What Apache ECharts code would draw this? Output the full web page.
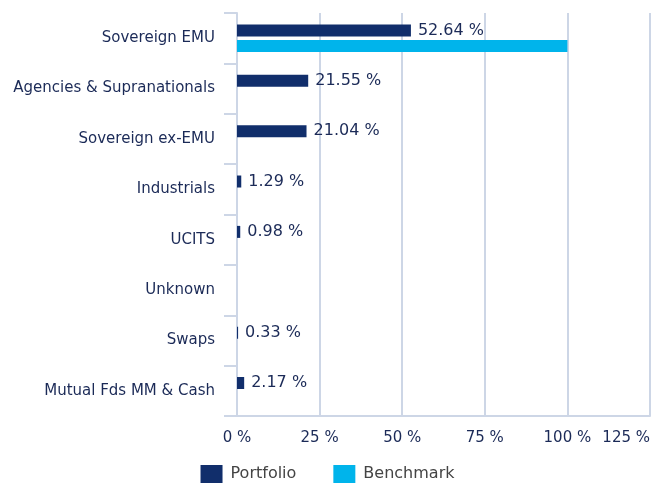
<!DOCTYPE html>
<html>
<head>
<meta charset="utf-8">
<script src="https://cdn.jsdelivr.net/npm/echarts@6/dist/echarts.min.js"></script>
<style>
html,body{margin:0;padding:0;background:#fff;}
#chart{width:655px;height:484px;}
</style>
</head>
<body>
<div id="chart"></div>
<script>
var categories = ["Sovereign EMU", "Agencies & Supranationals", "Sovereign ex-EMU", "Industrials", "UCITS", "Unknown", "Swaps", "Mutual Fds MM & Cash"];
var portfolio = [52.64, 21.55, 21.04, 1.29, 0.98, null, 0.33, 2.17];
var benchmark = [100, null, null, null, null, null, null, null];
var xTicks = [0, 25, 50, 75, 100, 125];

var textColor = '#1b2a57';
var gridColor = '#cdd6e6';
var chart = echarts.init(document.getElementById('chart'), null, {renderer: 'canvas'});
chart.setOption({
  animation: false,
  textStyle: {fontFamily: 'DejaVu Sans'},
  grid: {left: 237, right: 5, top: 13, height: 403, containLabel: false, outerBoundsMode: 'none'},
  legend: {
    top: 460,
    left: 'center',
    itemWidth: 22,
    itemHeight: 18,
    itemGap: 37,
    icon: 'rect',
    textStyle: {color: '#444', fontSize: 16, fontFamily: 'DejaVu Sans', padding: [0, 0, 0, 3]},
    data: ['Portfolio', 'Benchmark']
  },
  xAxis: {
    type: 'value',
    min: xTicks[0],
    max: xTicks[xTicks.length - 1],
    interval: 25,
    axisLine: {show: true, lineStyle: {color: gridColor, width: 2}},
    axisTick: {show: false},
    splitLine: {show: true, lineStyle: {color: gridColor, width: 2}},
    axisLabel: {color: textColor, fontSize: 15, margin: 15, alignMaxLabel: 'right',
      formatter: function (v) { return v + ' %'; }}
  },
  yAxis: {
    type: 'category',
    inverse: true,
    data: categories,
    axisLine: {show: true, lineStyle: {color: gridColor, width: 2}},
    axisTick: {show: true, inside: false, length: 13, lineStyle: {color: gridColor, width: 2}},
    axisLabel: {color: textColor, fontSize: 15, margin: 22, padding: [6, 0, 0, 0]}
  },
  series: [
    {
      name: 'Portfolio',
      type: 'bar',
      data: portfolio,
      barWidth: 12,
      barGap: '30%',
      itemStyle: {color: '#112e6b'},
      label: {show: true, position: 'right', distance: 7, color: textColor, fontSize: 16,
        formatter: function (p) { return p.value.toFixed(2) + ' %'; }}
    },
    {
      name: 'Benchmark',
      type: 'bar',
      data: benchmark,
      barWidth: 12,
      itemStyle: {color: '#00b4eb'}
    }
  ]
});
</script>
</body>
</html>
